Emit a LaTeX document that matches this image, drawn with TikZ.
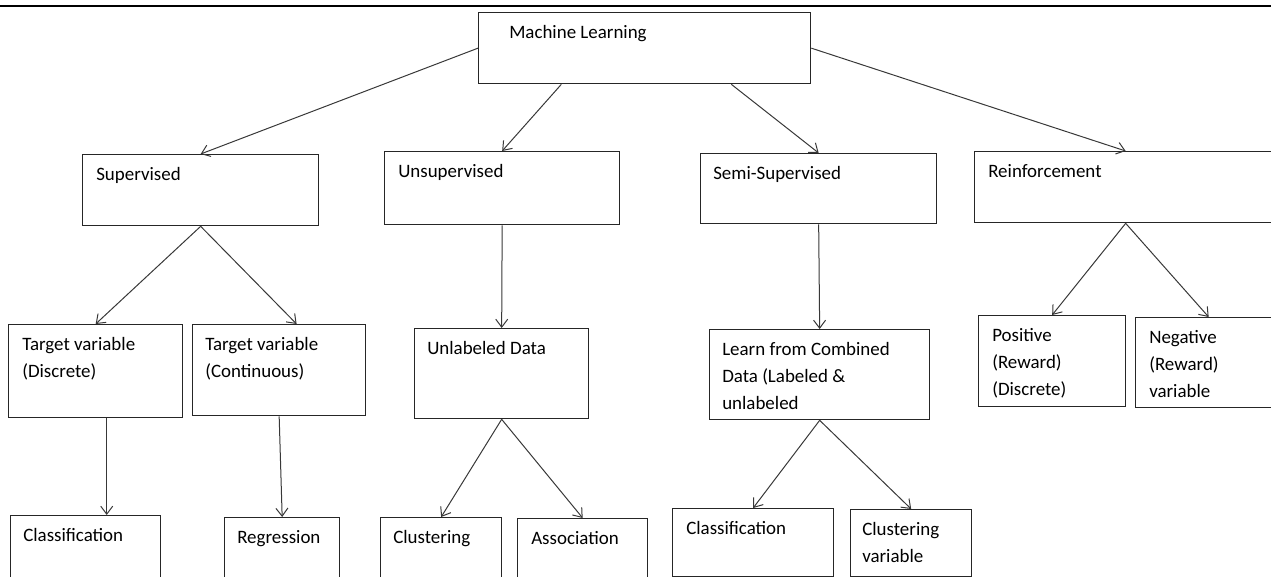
\documentclass[tikz,border=0pt]{standalone}
\usepackage{fontspec}
\setmainfont{Carlito}
\usetikzlibrary{arrows.meta,calc}
\tikzset{
  box/.style={draw=black!85, line width=1pt, rectangle, inner sep=0pt, anchor=north west},
  txt/.style={inner sep=0pt, anchor=north west, align=left, text=black,
    font={\fontsize{14.2}{20.25}\selectfont}},
  arr/.style={draw=black!78, line width=0.75pt, -{Straight Barb[length=6pt,width=9pt,line width=0.75pt]}},
  rulestyle/.style={draw=black, line width=1.1pt}
}
% name, x1, y1, x2, y2, text x, text
\newcommand\mybox[7]{%
  \node[box, minimum width={(#4-#2)*0.75pt}, minimum height={(#5-#3)*0.75pt}] (#1) at (#2,#3) {};
  \node[txt] (#1t) at (#6,#3+7) {\strut #7};
}
\begin{document}
\begin{tikzpicture}[x=0.75pt,y=-0.75pt]
\useasboundingbox (0,0) rectangle (1271,577);
\clip (0,0) rectangle (1271,577);
\coordinate (rl) at (0,6);
\coordinate (rr) at (1271,6);
\draw[rulestyle] (rl) -- (rr);

\mybox{ml}{478}{12}{810}{83}{509}{Machine Learning}
\mybox{sup}{82}{154}{318}{225}{96}{Supervised}
\mybox{uns}{384}{151}{619}{224}{398}{Unsupervised}
\mybox{semi}{700}{153}{936}{223}{713}{Semi-Supervised}
\mybox{rein}{974}{151}{1276}{222}{988}{Reinforcement}
\mybox{td}{8}{324}{182}{417}{22}{Target variable\\(Discrete)}
\mybox{tc}{192}{324}{365}{415}{205}{Target variable\\(Continuous)}
\mybox{unl}{414}{328}{588}{418}{427}{Unlabeled Data}
\mybox{lrn}{709}{329}{929}{419}{722}{Learn from Combined\\Data (Labeled \&\\unlabeled}
\mybox{pos}{978}{315}{1125}{406}{992}{Positive\\(Reward)\\(Discrete)}
\mybox{neg}{1135}{317}{1281}{407}{1149}{Negative\\(Reward)\\variable}
\mybox{cla}{10}{515}{160}{600}{23}{Classification}
\mybox{reg}{224}{517}{339}{600}{237}{Regression}
\mybox{clu}{380}{517}{501}{600}{393}{Clustering}
\mybox{ass}{517}{518}{647}{600}{531}{Association}
\mybox{clb}{672}{508}{833}{576}{686}{Classification}
\mybox{cv}{850}{509}{971}{576}{862}{Clustering\\variable}

\draw[arr] (ml.west) -- (sup.north);
\draw[arr] ($(ml.south west)!0.25!(ml.south east)$) -- (uns.north);
\draw[arr] ($(ml.south west)!0.76!(ml.south east)$) -- (semi.north);
\draw[arr] (ml.east) -- (rein.north);

\draw[arr] (sup.south) -- (td.north);
\draw[arr] (sup.south) -- ($(tc.north west)!0.6!(tc.north east)$);
\coordinate (tdx) at ($(td.south west)!0.563!(td.south east)$);
\draw[arr] (tdx) -- (tdx |- cla.north);
\draw[arr] (tc.south) -- (reg.north);

\draw[arr] (uns.south) -- (unl.north);
\draw[arr] (unl.south) -- (clu.north);
\draw[arr] (unl.south) -- (ass.north);

\draw[arr] (semi.south) -- (lrn.north);
\draw[arr] (lrn.south) -- (clb.north);
\draw[arr] (lrn.south) -- (cv.north);

\draw[arr] (rein.south) -- (pos.north);
\draw[arr] (rein.south) -- (neg.north);
\end{tikzpicture}
\end{document}
